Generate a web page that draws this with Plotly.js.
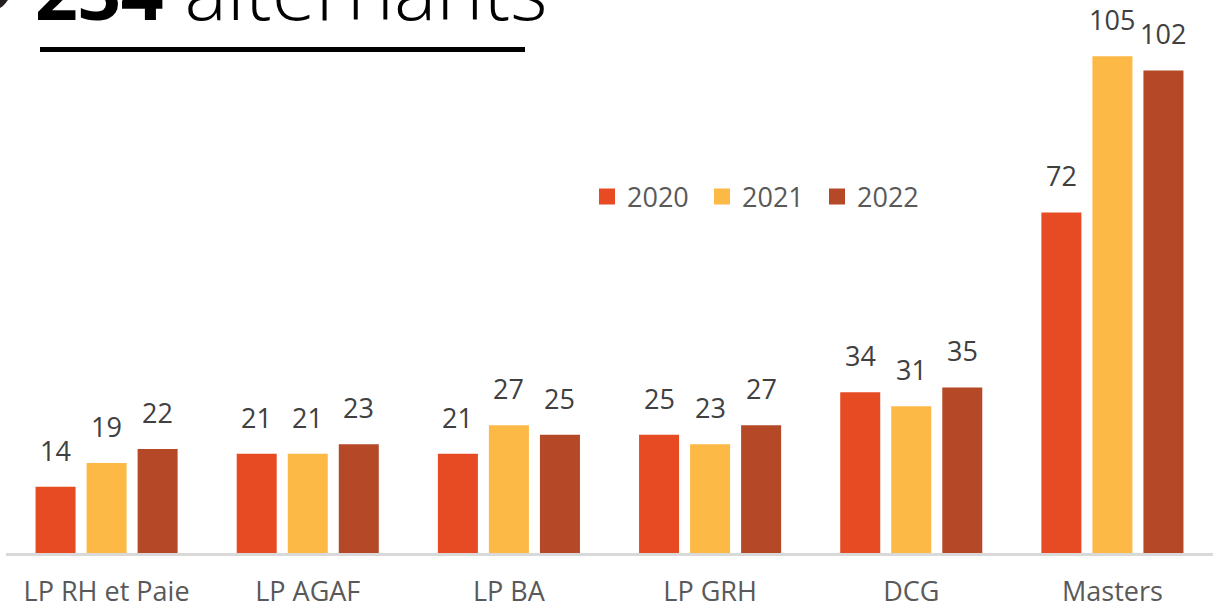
<!DOCTYPE html>
<html>
<head>
<meta charset="utf-8">
<script src="https://cdn.plot.ly/plotly-3.0.1.min.js"></script>
<style>html,body{margin:0;padding:0;background:#fff;}#chart{width:1219px;height:608px;}</style>
</head>
<body>
<div id="chart"></div>
<script>
const categories = ["LP RH et Paie", "LP AGAF", "LP BA", "LP GRH", "DCG", "Masters"];
const years = ["2020", "2021", "2022"];
const values2020 = [14, 21, 21, 25, 34, 72];
const values2021 = [19, 21, 27, 23, 31, 105];
const values2022 = [22, 23, 25, 27, 35, 102];
const colors = ["#E64B23", "#FDB945", "#B44827"];
const titleBold = "234";
const titleRest = "alternants";

const series = [values2020, values2021, values2022];
const W = 1219, H = 608;
const M = {l: 6, r: 6, t: 0, b: 55};
const pw = W - M.l - M.r, ph = H - M.t - M.b;
const px2x = p => (p - M.l) / pw;
const px2y = p => 1 - (p - M.t) / ph;

const bargap = 0.239, bargroupgap = 0.216;
const slot = (1 - bargap) / 3;

const traces = [];
series.forEach((vals, k) => {
  traces.push({
    type: "bar", x: categories, y: vals, name: years[k],
    marker: {color: colors[k]}, showlegend: false, hoverinfo: "x+y"
  });
});
series.forEach((vals, k) => {
  traces.push({
    type: "scatter", mode: "markers", x: [null], y: [null], name: years[k],
    marker: {symbol: "square", size: 17, color: colors[k]}, showlegend: true
  });
});

const annotations = [];
series.forEach((vals, k) => {
  vals.forEach((v, i) => {
    annotations.push({
      x: i + (k - 1) * slot, y: v, xref: "x", yref: "y",
      text: String(v), showarrow: false, yanchor: "bottom", yshift: 16,
      font: {family: "Open Sans", size: 27, color: "#404040"}
    });
  });
});
annotations.push({
  xref: "paper", yref: "paper", x: px2x(33), y: px2y(45), xanchor: "left", yanchor: "bottom",
  text: "<b><span style='font-size:75px'>" + titleBold + "</span></b> " + titleRest, showarrow: false,
  font: {family: "Open Sans", size: 80, color: "#000000", weight: 300}
});

const layout = {
  width: W, height: H, margin: M,
  paper_bgcolor: "#ffffff", plot_bgcolor: "#ffffff",
  barmode: "group", bargap: bargap, bargroupgap: bargroupgap,
  xaxis: {
    type: "category", showgrid: false, zeroline: false,
    showline: true, linecolor: "#d9d9d9", linewidth: 3,
    ticks: "outside", ticklen: 13, tickcolor: "rgba(0,0,0,0)",
    tickfont: {family: "Open Sans", size: 27, color: "#595959"}
  },
  yaxis: {range: [0, 116.9], visible: false, showgrid: false, zeroline: false},
  legend: {
    orientation: "h", x: px2x(587), y: px2y(197), xanchor: "left", yanchor: "middle",
    font: {family: "Open Sans", size: 27, color: "#595959"},
    bgcolor: "rgba(0,0,0,0)", entrywidth: 70, entrywidthmode: "pixels"
  },
  annotations: annotations,
  shapes: [
    {type: "line", xref: "paper", yref: "paper", x0: px2x(40), x1: px2x(525), y0: px2y(49.5), y1: px2y(49.5),
     line: {color: "#000000", width: 5}},
    {type: "circle", xref: "paper", yref: "paper", x0: px2x(-40), x1: px2x(12), y0: px2y(-40), y1: px2y(12),
     fillcolor: "#231f20", line: {width: 0}}
  ],
  showlegend: true
};

Plotly.newPlot("chart", traces, layout, {displayModeBar: false, staticPlot: true});
</script>
</body>
</html>
